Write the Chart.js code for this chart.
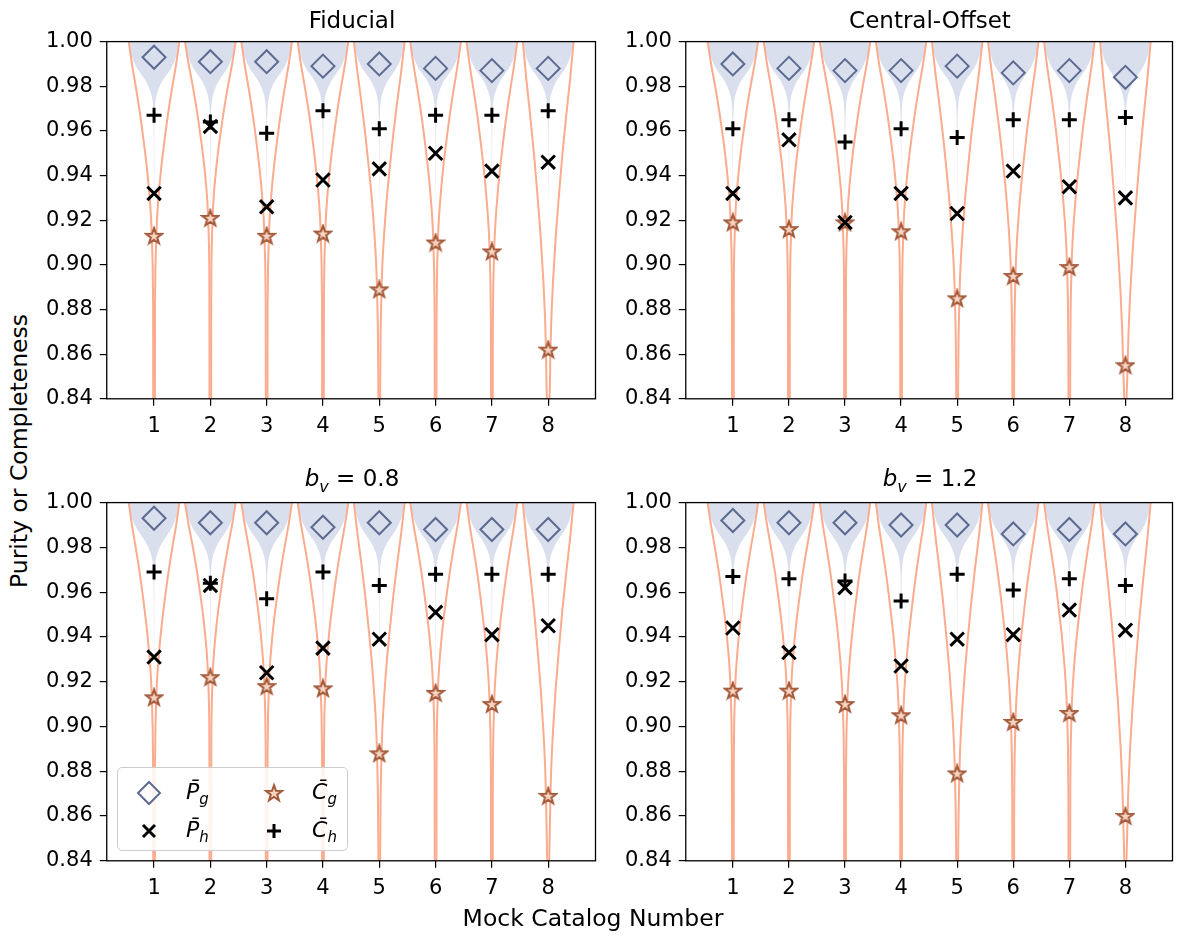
<!DOCTYPE html>
<html>
<head>
<meta charset="utf-8">
<script src="https://cdn.jsdelivr.net/npm/chart.js@4.4.1/dist/chart.umd.min.js"></script>
<style>
  body { margin: 0; background: #fff; font-family: "DejaVu Sans", sans-serif; }
  #wrap { position: relative; width: 1177px; height: 937px; overflow: hidden; }
  canvas { position: absolute; }
  .title { position: absolute; font-size: 23px; line-height: 26px; transform: translateX(-50%); white-space: nowrap; color: #000; }
  .axlabel { position: absolute; font-size: 23.5px; line-height: 26px; white-space: nowrap; color: #000; }
  #legend { position: absolute; left: 117px; top: 767px; width: 229px; height: 82px; border: 1.3px solid #cccccc; border-radius: 5px; background: rgba(255,255,255,0.85); }
  .lg { position: absolute; font-size: 22px; line-height: 24px; font-style: italic; }
  .lg sub { font-size: 15px; vertical-align: -5px; }
  .lgm { position: absolute; }
</style>
</head>
<body>
<div id="wrap">
  <canvas id="c0"></canvas>
  <canvas id="c1"></canvas>
  <canvas id="c2"></canvas>
  <canvas id="c3"></canvas>
  <div class="title" style="left:352px;top:7px">Fiducial</div>
  <div class="title" style="left:930px;top:7px">Central-Offset</div>
  <div class="title" style="left:352px;top:465px"><i>b</i><sub style="font-size:16px"><i>v</i></sub> = 0.8</div>
  <div class="title" style="left:930px;top:465px"><i>b</i><sub style="font-size:16px"><i>v</i></sub> = 1.2</div>
  <div class="axlabel" style="left:593px;top:905px;transform:translateX(-50%)">Mock Catalog Number</div>
  <div class="axlabel" style="left:19px;top:451px;transform:translate(-50%,-50%) rotate(-90deg)">Purity or Completeness</div>
  <div id="legend">
    <svg class="lgm" style="left:18px;top:12px" width="26" height="26"><polygon points="13,2 24,13 13,24 2,13" fill="none" stroke="#5d6a91" stroke-width="2"/></svg>
    <div class="lg" style="left:68px;top:12px">P&#772;<sub>g</sub></div>
    <svg class="lgm" style="left:143px;top:12px" width="26" height="26" id="lgStar"></svg>
    <div class="lg" style="left:194px;top:12px">C&#772;<sub>g</sub></div>
    <svg class="lgm" style="left:18px;top:50px" width="26" height="26"><path d="M7,7 L19,19 M19,7 L7,19" stroke="#000" stroke-width="3"/></svg>
    <div class="lg" style="left:68px;top:50px">P&#772;<sub>h</sub></div>
    <svg class="lgm" style="left:143px;top:50px" width="26" height="26"><path d="M13,6 L13,20 M6,13 L20,13" stroke="#000" stroke-width="3"/></svg>
    <div class="lg" style="left:194px;top:50px">C&#772;<sub>h</sub></div>
  </div>
</div>
<script>
const catalogs = [1, 2, 3, 4, 5, 6, 7, 8];
const yTicks = [0.84, 0.86, 0.88, 0.90, 0.92, 0.94, 0.96, 0.98, 1.00];

// Fiducial
const fidPg = [0.993, 0.991, 0.991, 0.989, 0.990, 0.988, 0.987, 0.988];
const fidCh = [0.967, 0.964, 0.959, 0.969, 0.961, 0.967, 0.967, 0.969];
const fidPh = [0.932, 0.962, 0.926, 0.938, 0.943, 0.950, 0.942, 0.946];
const fidCg = [0.913, 0.921, 0.913, 0.914, 0.889, 0.910, 0.906, 0.862];

// Central-Offset
const cenPg = [0.990, 0.988, 0.987, 0.987, 0.989, 0.986, 0.987, 0.984];
const cenCh = [0.961, 0.965, 0.955, 0.961, 0.957, 0.965, 0.965, 0.966];
const cenPh = [0.932, 0.956, 0.919, 0.932, 0.923, 0.942, 0.935, 0.930];
const cenCg = [0.919, 0.916, 0.919, 0.915, 0.885, 0.895, 0.899, 0.855];

// b_v = 0.8
const bv08Pg = [0.993, 0.991, 0.991, 0.989, 0.991, 0.988, 0.988, 0.988];
const bv08Ch = [0.969, 0.964, 0.957, 0.969, 0.963, 0.968, 0.968, 0.968];
const bv08Ph = [0.931, 0.963, 0.924, 0.935, 0.939, 0.951, 0.941, 0.945];
const bv08Cg = [0.913, 0.922, 0.918, 0.917, 0.888, 0.915, 0.910, 0.869];

// b_v = 1.2
const bv12Pg = [0.992, 0.991, 0.991, 0.990, 0.990, 0.986, 0.988, 0.986];
const bv12Ch = [0.967, 0.966, 0.965, 0.956, 0.968, 0.961, 0.966, 0.963];
const bv12Ph = [0.944, 0.933, 0.962, 0.927, 0.939, 0.941, 0.952, 0.943];
const bv12Cg = [0.916, 0.916, 0.910, 0.905, 0.879, 0.902, 0.906, 0.860];

// purity violin outline: level -> half width
const purityLevels = [1.000, 0.997, 0.994, 0.991, 0.988, 0.985, 0.982, 0.979, 0.976, 0.972, 0.966, 0.955, 0.940, 0.925];
const purityHalfWidth = [0.44, 0.425, 0.40, 0.36, 0.30, 0.22, 0.14, 0.085, 0.045, 0.02, 0.009, 0.005, 0.003, 0.001];

// completeness violin outline: depth (0 = top, 1 = at the mean) -> half width
const complDepth = [0, 0.12, 0.24, 0.37, 0.50, 0.63, 0.78, 0.90, 1.00, 1.15, 1.35];
const complHalfWidth = [0.45, 0.39, 0.32, 0.25, 0.19, 0.135, 0.085, 0.055, 0.04, 0.025, 0.017];
const complTail = 0.015;

const panels = [
  { canvas: 'c0', pg: fidPg, ph: fidPh, cg: fidCg, ch: fidCh, left: 107, top: 42, right: 596, bottom: 399 },
  { canvas: 'c1', pg: cenPg, ph: cenPh, cg: cenCg, ch: cenCh, left: 686, top: 42, right: 1173, bottom: 399 },
  { canvas: 'c2', pg: bv08Pg, ph: bv08Ph, cg: bv08Cg, ch: bv08Ch, left: 107, top: 503, right: 596, bottom: 861 },
  { canvas: 'c3', pg: bv12Pg, ph: bv12Ph, cg: bv12Cg, ch: bv12Ch, left: 686, top: 503, right: 1173, bottom: 861 }
];

const BLUE = '#d9dfec';
const ORANGE = '#fbab8e';
const DIAMOND = '#5d6a91';
const STAR_EDGE = '#a35a3b';
const STAR_FACE = '#f8d3c0';

const Y_AXIS_W = 68;
const X_AXIS_H = 50;
const PAD_TOP = 14;
const PAD_RIGHT = 4;

function starPoints(cx, cy, ro, ri) {
    const pts = [];
    for (let k = 0; k < 10; k++) {
        const r = k % 2 === 0 ? ro : ri;
        const a = -Math.PI / 2 + k * Math.PI / 5;
        pts.push([cx + r * Math.cos(a), cy + r * Math.sin(a)]);
    }
    return pts;
}

function makeStar() {
    const c = document.createElement('canvas');
    c.width = 20; c.height = 20;
    const ctx = c.getContext('2d');
    ctx.beginPath();
    starPoints(10, 10.6, 8.4, 3.4).forEach(([x, y], k) => k ? ctx.lineTo(x, y) : ctx.moveTo(x, y));
    ctx.closePath();
    ctx.fillStyle = STAR_FACE;
    ctx.fill();
    ctx.lineWidth = 2;
    ctx.strokeStyle = STAR_EDGE;
    ctx.stroke();
    return c;
}
const starImg = makeStar();

document.getElementById('lgStar').innerHTML =
    `<polygon points="${starPoints(13, 13.6, 8.4, 3.4).map(p => p[0].toFixed(2) + ',' + p[1].toFixed(2)).join(' ')}" fill="${STAR_FACE}" stroke="${STAR_EDGE}" stroke-width="2"/>`;

function violinDatasets(pg, cg) {
    const out = [];
    catalogs.forEach((c, i) => {
        // purity violin, filled between left and right edge
        out.push({
            data: purityLevels.map((y, k) => ({ x: c - purityHalfWidth[k], y })),
            borderWidth: 0, pointRadius: 0, fill: '+1', backgroundColor: BLUE,
            cubicInterpolationMode: 'monotone', order: 5
        });
        out.push({
            data: purityLevels.map((y, k) => ({ x: c + purityHalfWidth[k], y })),
            borderWidth: 0, pointRadius: 0, fill: false, backgroundColor: BLUE,
            cubicInterpolationMode: 'monotone', order: 5
        });
        // completeness violin, outline only
        const lv = [];
        complDepth.forEach((d, k) => {
            const y = 1 - d * (1 - cg[i]);
            if (y > yTicks[0]) lv.push({ y, w: complHalfWidth[k] });
        });
        lv.push({ y: yTicks[0] - 0.004, w: complTail });
        [-1, 1].forEach(s => {
            out.push({
                data: lv.map(p => ({ x: c + s * p.w, y: p.y })),
                borderColor: ORANGE, borderWidth: 2, pointRadius: 0, fill: false,
                cubicInterpolationMode: 'monotone', order: 4
            });
        });
    });
    return out;
}

function markerDataset(values, style) {
    return Object.assign({
        data: catalogs.map((c, i) => ({ x: c, y: values[i] })),
        showLine: false, fill: false, pointHoverRadius: 0
    }, style);
}

const frame = {
    id: 'frame',
    afterDraw(chart) {
        const { ctx, chartArea: a } = chart;
        ctx.save();
        ctx.strokeStyle = '#000';
        ctx.lineWidth = 1.3;
        ctx.strokeRect(a.left, a.top, a.right - a.left, a.bottom - a.top);
        ctx.restore();
    }
};

const tickFont = { family: 'DejaVu Sans', size: 21 };

function buildConfig(p) {
    const datasets = [
        markerDataset(p.ph, { pointStyle: 'crossRot', pointRadius: 9.5, borderColor: '#000', backgroundColor: '#000', pointBorderWidth: 3, order: 0 }),
        markerDataset(p.ch, { pointStyle: 'cross', pointRadius: 7.5, borderColor: '#000', backgroundColor: '#000', pointBorderWidth: 3, order: 0 }),
        markerDataset(p.cg, { pointStyle: starImg, pointRadius: 9, order: 1 }),
        markerDataset(p.pg, { pointStyle: 'rectRot', pointRadius: 11.5, borderColor: DIAMOND, backgroundColor: 'rgba(0,0,0,0)', pointBorderWidth: 2, order: 1 })
    ].concat(violinDatasets(p.pg, p.cg));

    return {
        type: 'line',
        data: { datasets },
        plugins: [frame],
        options: {
            responsive: false,
            maintainAspectRatio: false,
            animation: false,
            devicePixelRatio: 1,
            indexAxis: 'y',
            layout: { padding: { top: PAD_TOP, right: PAD_RIGHT, left: 0, bottom: 0 } },
            plugins: { legend: { display: false }, tooltip: { enabled: false } },
            events: [],
            scales: {
                x: {
                    type: 'linear', min: 0.16, max: 8.84,
                    afterBuildTicks: s => { s.ticks = catalogs.map(v => ({ value: v })); },
                    grid: { display: true, drawOnChartArea: false, drawTicks: true, tickLength: 7, color: '#000', lineWidth: 1.2 },
                    border: { display: false },
                    ticks: { color: '#000', font: tickFont, padding: 8, maxRotation: 0, callback: v => String(v) }
                },
                y: {
                    type: 'linear', min: 0.84, max: 1.0,
                    afterBuildTicks: s => { s.ticks = yTicks.map(v => ({ value: v })); },
                    grid: { display: true, drawOnChartArea: false, drawTicks: true, tickLength: 7, color: '#000', lineWidth: 1.2 },
                    border: { display: false },
                    ticks: { color: '#000', font: tickFont, padding: 7, callback: v => v.toFixed(2) }
                }
            }
        }
    };
}

panels.forEach(p => {
    const cv = document.getElementById(p.canvas);
    let left = p.left - Y_AXIS_W, top = p.top - PAD_TOP;
    let w = (p.right - p.left) + Y_AXIS_W + PAD_RIGHT;
    let h = (p.bottom - p.top) + PAD_TOP + X_AXIS_H;
    let chart = null;
    // place the canvas so the plot area lands on the panel box
    for (let pass = 0; pass < 4; pass++) {
        if (chart) chart.destroy();
        cv.width = w; cv.height = h;
        cv.style.width = w + 'px'; cv.style.height = h + 'px';
        cv.style.left = left + 'px'; cv.style.top = top + 'px';
        chart = new Chart(cv, buildConfig(p));
        const a = chart.chartArea;
        const dl = p.left - (left + a.left);
        const dt = p.top - (top + a.top);
        const dr = p.right - (left + a.right);
        const db = p.bottom - (top + a.bottom);
        if (Math.abs(dl) < 0.5 && Math.abs(dt) < 0.5 && Math.abs(dr) < 0.5 && Math.abs(db) < 0.5) break;
        left += dl; top += dt;
        w += Math.round(dr - dl); h += Math.round(db - dt);
    }
});
</script>
</body>
</html>
